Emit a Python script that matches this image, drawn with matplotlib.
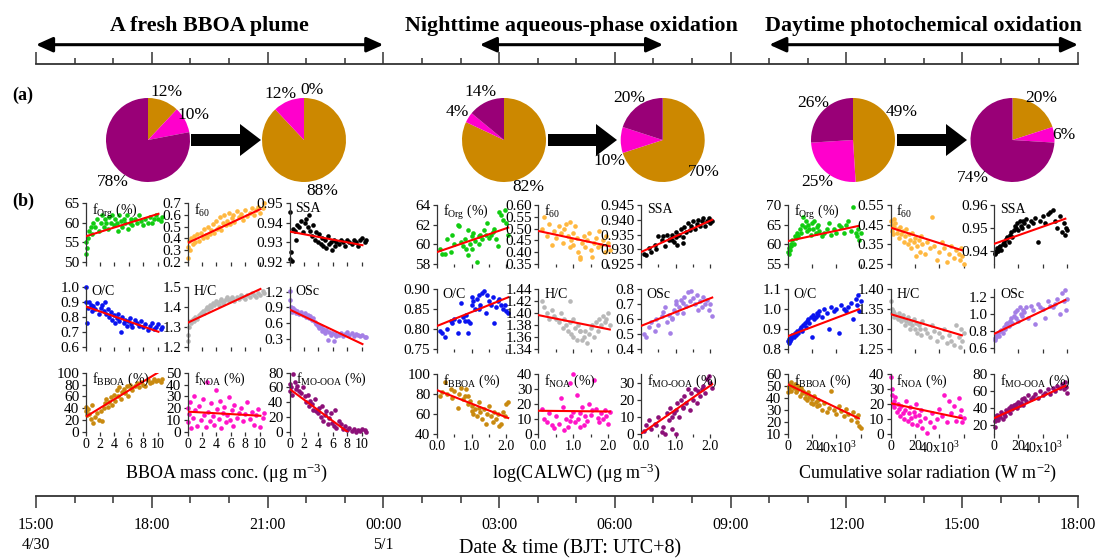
import matplotlib
matplotlib.use('Agg')
import matplotlib.pyplot as plt
from matplotlib.patches import FancyArrow, FancyArrowPatch
from matplotlib.ticker import FixedLocator, FormatStrFormatter, MultipleLocator

W, H = 1099, 559

plt.rcParams['font.family'] = ['Liberation Serif', 'DejaVu Serif']
plt.rcParams['mathtext.fontset'] = 'custom'
plt.rcParams['mathtext.rm'] = 'Liberation Serif'
plt.rcParams['mathtext.it'] = 'Liberation Serif:italic'
plt.rcParams['mathtext.bf'] = 'Liberation Serif:bold'

# ---------------- data ----------------
phase_names = ['A fresh BBOA plume', 'Nighttime aqueous-phase oxidation',
               'Daytime photochemical oxidation']
phase_start = [0, 11.5, 19.0]      # hours after 15:00 4/30
phase_end = [9, 16.25, 27]
time_ticks = [0, 3, 6, 9, 12, 15, 18, 21, 24, 27]
time_labels = ['15:00\n4/30', '18:00', '21:00', '00:00\n5/1', '03:00', '06:00',
               '09:00', '12:00', '15:00', '18:00']

# pie fractions: BBOA, NOA, MO-OOA
pie_fracs = [[12, 10, 78], [88, 12, 0], [82, 4, 14], [70, 10, 20], [49, 25, 26], [20, 6, 74]]
pie_colors = ['#CC8800', '#FF00CC', '#990077']

panel_names = [r'f$_{\mathrm{Org}}$ (%)', r'f$_{60}$', 'SSA', 'O/C', 'H/C', 'OSc',
               r'f$_{\mathrm{BBOA}}$ (%)', r'f$_{\mathrm{NOA}}$ (%)',
               r'f$_{\mathrm{MO\text{-}OOA}}$ (%)']
panel_colors = ['#11CC11', '#FFB840', '#000000', '#0A14F0', '#B8B8B8', '#A47FE6',
                '#C98A10', '#FF14C8', '#8C1078']

# group 1: BBOA mass conc.
bboa_x = [0.0, 0.1, 0.2, 0.3, 0.5, 0.7, 0.9, 1.1, 1.3, 1.6, 1.9, 2.1, 2.3, 2.5, 2.7, 2.9,
          3.1, 3.3, 3.5, 3.7, 3.9, 4.1, 4.3, 4.5, 4.7, 4.9, 5.1, 5.3, 5.5, 5.7, 5.9, 6.1,
          6.3, 6.5, 6.8, 7.1, 7.4, 7.7, 8.0, 8.3, 8.6, 8.9, 9.2, 9.5, 9.8, 10.1, 10.4, 10.6]
bboa_forg = [52, 55, 53.5, 56, 58, 59, 57, 60, 59, 61, 58, 60, 62, 59, 61, 60, 58.5, 61.5,
             60, 62, 59.5, 61, 60, 58, 62, 60.5, 59, 61, 60, 62, 58.5, 60, 61, 59.5, 61, 60,
             62, 60.5, 59.5, 61, 60, 61.5, 60, 61, 62, 61, 60.5, 61.5]
bboa_f60 = [0.23, 0.33, 0.38, 0.30, 0.40, 0.35, 0.42, 0.37, 0.44, 0.38, 0.45, 0.40, 0.48,
            0.43, 0.41, 0.50, 0.44, 0.47, 0.52, 0.45, 0.55, 0.48, 0.50, 0.58, 0.47, 0.53,
            0.60, 0.51, 0.55, 0.62, 0.52, 0.57, 0.60, 0.54, 0.63, 0.58, 0.61, 0.56, 0.64,
            0.59, 0.62, 0.66, 0.60, 0.64, 0.67, 0.62, 0.66, 0.70]
bboa_ssa = [0.9455, 0.9215, 0.925, 0.9205, 0.937, 0.936, 0.931, 0.939, 0.938, 0.941, 0.935,
            0.940, 0.942, 0.938, 0.944, 0.936, 0.933, 0.939, 0.931, 0.935, 0.930, 0.934,
            0.929, 0.932, 0.928, 0.931, 0.927, 0.933, 0.929, 0.930, 0.926, 0.931, 0.928,
            0.930, 0.929, 0.931, 0.930, 0.928, 0.931, 0.930, 0.929, 0.931, 0.930, 0.928,
            0.931, 0.932, 0.930, 0.931]
bboa_oc = [1.0, 0.90, 0.76, 0.86, 0.90, 0.88, 0.84, 0.87, 0.85, 0.89, 0.82, 0.86, 0.88, 0.84,
           0.90, 0.82, 0.85, 0.80, 0.83, 0.78, 0.81, 0.76, 0.79, 0.82, 0.77, 0.70, 0.80, 0.76,
           0.78, 0.74, 0.77, 0.79, 0.75, 0.73, 0.78, 0.76, 0.74, 0.77, 0.73, 0.75, 0.71, 0.74,
           0.76, 0.72, 0.73, 0.75, 0.72, 0.73]
bboa_hc = [1.23, 1.26, 1.30, 1.33, 1.32, 1.34, 1.33, 1.35, 1.34, 1.36, 1.37, 1.38, 1.37, 1.39,
           1.40, 1.39, 1.41, 1.40, 1.42, 1.41, 1.43, 1.42, 1.41, 1.43, 1.44, 1.42, 1.43, 1.44,
           1.45, 1.43, 1.44, 1.45, 1.44, 1.43, 1.45, 1.44, 1.46, 1.45, 1.44, 1.46, 1.45, 1.47,
           1.46, 1.45, 1.47, 1.46, 1.48, 1.47]
bboa_osc = [1.22, 1.05, 0.90, 0.82, 0.88, 0.85, 0.80, 0.84, 0.78, 0.82, 0.75, 0.80, 0.72,
            0.76, 0.70, 0.74, 0.66, 0.70, 0.62, 0.58, 0.55, 0.50, 0.54, 0.45, 0.48, 0.42,
            0.46, 0.28, 0.44, 0.38, 0.42, 0.26, 0.40, 0.35, 0.38, 0.42, 0.36, 0.40, 0.44,
            0.38, 0.41, 0.36, 0.40, 0.38, 0.35, 0.37, 0.34, 0.33]
bboa_fbboa = [35, 42, 28, 38, 30, 22, 45, 15, 25, 32, 20, 35, 18, 40, 48, 55, 42, 50, 58, 45,
              62, 52, 70, 60, 75, 55, 68, 72, 65, 78, 60, 80, 74, 70, 78, 82, 75, 85, 80, 78,
              88, 82, 85, 90, 86, 88, 84, 90]
bboa_fnoa = [20, 8, 15, 25, 3, 12, 30, 18, 5, 22, 10, 28, 14, 4, 42, 17, 9, 24, 13, 6, 35, 19,
             11, 26, 3, 16, 21, 8, 14, 29, 10, 18, 5, 23, 12, 16, 20, 9, 15, 25, 11, 17, 6,
             14, 19, 4, 12, 16]
bboa_fmo = [65, 55, 60, 50, 78, 68, 58, 62, 55, 52, 60, 48, 40, 50, 35, 42, 38, 30, 45, 28,
            25, 32, 20, 35, 15, 22, 28, 10, 18, 25, 12, 8, 30, 5, 15, 10, 3, 8, 2, 5, 1, 3,
            0, 2, 1, 3, 2, 0]
bboa_fit_x = [[0, 10.1]] * 6 + [[0, 10.0], [0, 10.1], [0, 8.0]]
bboa_fit_y = [[56.5, 62.3], [0.36, 0.65], [0.9355, 0.9285], [0.87, 0.70], [1.32, 1.49],
              [0.86, 0.20], [25, 100], [17, 13.5], [58, 0]]

# group 2: log(CALWC)
calwc_x = [0.1, 0.15, 0.25, 0.3, 0.4, 0.45, 0.5, 0.6, 0.65, 0.7, 0.75, 0.8, 0.85, 0.9, 0.95,
           1.0, 1.0, 1.05, 1.1, 1.15, 1.2, 1.25, 1.3, 1.35, 1.4, 1.45, 1.5, 1.55, 1.6, 1.65,
           1.7, 1.75, 1.8, 1.85, 1.9, 1.95, 2.0, 2.05, 1.2, 0.9]
calwc_forg = [59.5, 59.0, 59.0, 60.5, 59.2, 61.0, 60.0, 62.0, 61.9, 60.2, 59.8, 60.5, 59.5,
              58.9, 60.0, 60.8, 59.5, 61.2, 60.3, 58.2, 60.8, 61.0, 60.5, 61.5, 61.0, 62.2,
              60.6, 60.9, 61.3, 61.6, 60.5, 59.8, 63.3, 63.0, 62.5, 63.5, 62.2, 61.0, 60.0, 61.5]
calwc_f60 = [0.50, 0.55, 0.47, 0.52, 0.43, 0.49, 0.46, 0.51, 0.48, 0.44, 0.50, 0.52, 0.47,
             0.42, 0.45, 0.48, 0.43, 0.51, 0.46, 0.40, 0.38, 0.44, 0.47, 0.42, 0.45, 0.48,
             0.41, 0.38, 0.44, 0.46, 0.42, 0.49, 0.43, 0.45, 0.40, 0.47, 0.44, 0.41, 0.37, 0.53]
calwc_ssa = [0.9285, 0.928, 0.9305, 0.929, 0.9315, 0.930, 0.9345, 0.933, 0.9345, 0.931,
             0.935, 0.933, 0.9335, 0.935, 0.9325, 0.934, 0.936, 0.9315, 0.935, 0.937, 0.934,
             0.9375, 0.936, 0.939, 0.9365, 0.938, 0.9395, 0.937, 0.9385, 0.940, 0.938,
             0.9395, 0.9405, 0.938, 0.9395, 0.9405, 0.939, 0.9395, 0.932, 0.933]
calwc_oc = [0.795, 0.79, 0.78, 0.80, 0.82, 0.815, 0.825, 0.79, 0.82, 0.865, 0.83, 0.82, 0.835,
            0.79, 0.815, 0.86, 0.88, 0.87, 0.85, 0.875, 0.885, 0.86, 0.89, 0.895, 0.84, 0.885,
            0.87, 0.86, 0.88, 0.815, 0.855, 0.87, 0.875, 0.86, 0.85, 0.86, 0.845, 0.84, 0.85, 0.82]
calwc_hc = [1.42, 1.41, 1.40, 1.39, 1.405, 1.395, 1.39, 1.385, 1.40, 1.375, 1.39, 1.38, 1.37,
            1.385, 1.365, 1.39, 1.36, 1.375, 1.355, 1.38, 1.37, 1.355, 1.36, 1.37, 1.35, 1.365,
            1.375, 1.38, 1.36, 1.385, 1.37, 1.39, 1.38, 1.395, 1.385, 1.39, 1.40, 1.38, 1.37, 1.42]
calwc_osc = [0.50, 0.48, 0.55, 0.58, 0.52, 0.60, 0.56, 0.62, 0.65, 0.68, 0.58, 0.63, 0.51,
             0.60, 0.66, 0.70, 0.72, 0.64, 0.68, 0.73, 0.71, 0.75, 0.69, 0.78, 0.72, 0.79,
             0.74, 0.70, 0.76, 0.66, 0.72, 0.68, 0.75, 0.70, 0.73, 0.66, 0.70, 0.62, 0.64, 0.61]
calwc_fbboa = [78, 82, 92, 80, 85, 76, 83, 66, 80, 86, 75, 78, 85, 70, 73, 63, 68, 60, 65, 58,
               72, 62, 55, 65, 50, 60, 68, 58, 52, 62, 55, 60, 48, 50, 62, 58, 70, 72, 66, 78]
calwc_fnoa = [17, 10, 8, 14, 6, 4, 12, 7, 24, 18, 3, 10, 5, 34, 12, 15, 40, 8, 26, 10, 14, 18,
              6, 12, 9, 20, 13, 16, 36, 17, 11, 8, 14, 10, 16, 12, 7, 15, 5, 9]
calwc_fmo = [2, 5, 8, 3, 6, 5, 10, 1, 4, 0, 12, 8, 15, 3, 12, 14, 0, 18, 10, 20, 15, 22, 18,
             26, 14, 24, 20, 26, 18, 25, 22, 26, 28, 24, 32, 34, 30, 27, 16, 10]
calwc_fit_x = [[0, 2.05]] * 9
calwc_fit_y = [[59.2, 61.7], [0.49, 0.425], [0.929, 0.940], [0.808, 0.88], [1.397, 1.373],
               [0.555, 0.745], [84, 56], [15.5, 15], [0, 29]]

# group 3: cumulative solar radiation (x10^3 W m-2)
solar_x = [0.5, 1, 1.5, 2, 2.5, 3, 4, 5, 6, 7, 8, 9, 10, 11, 12, 13, 14, 15, 16, 17, 18, 19,
           20, 21, 22, 23, 24, 25, 26, 28, 30, 32, 34, 36, 38, 40, 42, 44, 46, 48, 50, 52,
           54, 56, 57, 58, 59, 60]
solar_forg = [58, 57.5, 59, 58.5, 60, 59.5, 61, 60, 62, 61.5, 63, 62, 64, 63, 65, 67, 64.5, 66,
              63.5, 65, 64, 62.5, 65.5, 64, 66, 63, 64.5, 65, 63.5, 62, 63, 64, 65.5, 62.5,
              64, 63, 65, 64.5, 63, 65, 66, 63.5, 69.5, 63, 62, 64, 61, 63]
solar_f60 = [0.47, 0.42, 0.45, 0.40, 0.48, 0.44, 0.46, 0.41, 0.43, 0.38, 0.44, 0.40, 0.42,
             0.36, 0.39, 0.43, 0.35, 0.40, 0.37, 0.33, 0.41, 0.36, 0.38, 0.29, 0.34, 0.37,
             0.31, 0.39, 0.35, 0.30, 0.36, 0.33, 0.49, 0.34, 0.27, 0.31, 0.36, 0.33, 0.26,
             0.30, 0.34, 0.28, 0.32, 0.30, 0.27, 0.33, 0.29, 0.25]
solar_ssa = [0.9385, 0.939, 0.940, 0.9395, 0.941, 0.940, 0.9415, 0.942, 0.9405, 0.943, 0.944,
             0.9425, 0.945, 0.946, 0.944, 0.947, 0.948, 0.946, 0.949, 0.951, 0.950, 0.952,
             0.949, 0.953, 0.951, 0.950, 0.953, 0.952, 0.954, 0.951, 0.953, 0.952, 0.9545,
             0.944, 0.953, 0.955, 0.952, 0.956, 0.957, 0.958, 0.953, 0.950, 0.955, 0.948,
             0.952, 0.947, 0.950, 0.949]
solar_oc = [0.84, 0.83, 0.85, 0.84, 0.86, 0.85, 0.87, 0.86, 0.88, 0.87, 0.89, 0.88, 0.90, 0.91,
            0.89, 0.92, 0.93, 0.91, 0.94, 0.95, 0.93, 0.96, 0.86, 0.97, 0.95, 0.96, 0.98, 0.97,
            0.99, 0.96, 1.00, 0.98, 0.90, 1.01, 0.99, 1.00, 0.88, 1.02, 1.00, 0.99, 1.01, 1.03,
            0.95, 1.05, 1.02, 1.07, 0.99, 1.04]
solar_hc = [1.37, 1.35, 1.34, 1.345, 1.33, 1.34, 1.335, 1.33, 1.325, 1.34, 1.33, 1.32, 1.335,
            1.325, 1.31, 1.32, 1.33, 1.315, 1.30, 1.32, 1.31, 1.325, 1.30, 1.315, 1.29, 1.31,
            1.30, 1.285, 1.32, 1.30, 1.29, 1.28, 1.31, 1.295, 1.27, 1.29, 1.28, 1.30, 1.265,
            1.285, 1.27, 1.26, 1.31, 1.28, 1.255, 1.30, 1.27, 1.29]
solar_osc = [0.72, 0.70, 0.74, 0.73, 0.76, 0.78, 0.75, 0.80, 0.82, 0.78, 0.85, 0.83, 0.88,
             0.90, 0.86, 0.92, 0.95, 0.90, 0.98, 1.02, 0.96, 1.05, 0.92, 1.08, 1.00, 0.98,
             1.05, 1.03, 1.08, 0.95, 1.10, 1.05, 0.88, 1.12, 1.08, 1.06, 0.95, 1.15, 1.10,
             1.08, 1.12, 1.18, 1.00, 1.25, 1.15, 1.28, 1.05, 1.18]
solar_fbboa = [45, 48, 50, 52, 46, 53, 50, 48, 52, 45, 47, 50, 42, 48, 44, 46, 40, 43, 38, 45,
               41, 36, 39, 35, 42, 37, 33, 38, 34, 30, 36, 28, 32, 46, 30, 27, 33, 29, 25, 31,
               27, 22, 28, 24, 20, 26, 17, 15]
solar_fnoa = [38, 30, 26, 20, 22, 18, 25, 15, 20, 17, 12, 19, 14, 10, 16, 22, 9, 14, 18, 11, 7,
              15, 12, 20, 6, 13, 9, 16, 4, 11, 1, 8, 14, 5, 10, 17, 12, 26, 8, 22, 14, 19, 9,
              24, 12, 16, 8, 11]
solar_fmo = [18, 25, 30, 28, 32, 26, 31, 29, 35, 27, 33, 30, 38, 36, 40, 34, 42, 39, 44, 41, 45,
             40, 47, 43, 46, 50, 44, 52, 48, 55, 50, 53, 57, 52, 60, 55, 58, 62, 56, 64, 60, 66,
             63, 68, 62, 70, 65, 58]
solar_fit_x = [[0, 58.5]] * 9
solar_fit_y = [[60.8, 64.7], [0.435, 0.32], [0.943, 0.954], [0.865, 1.0], [1.338, 1.285],
               [0.77, 1.165], [51.5, 23], [20.5, 10.5], [28, 66]]

group_x = [bboa_x, calwc_x, solar_x]
group_y = [[bboa_forg, bboa_f60, bboa_ssa, bboa_oc, bboa_hc, bboa_osc, bboa_fbboa, bboa_fnoa, bboa_fmo],
           [calwc_forg, calwc_f60, calwc_ssa, calwc_oc, calwc_hc, calwc_osc, calwc_fbboa, calwc_fnoa, calwc_fmo],
           [solar_forg, solar_f60, solar_ssa, solar_oc, solar_hc, solar_osc, solar_fbboa, solar_fnoa, solar_fmo]]
group_fit_x = [bboa_fit_x, calwc_fit_x, solar_fit_x]
group_fit_y = [bboa_fit_y, calwc_fit_y, solar_fit_y]
group_xlabels = [r'BBOA mass conc. ($\mathrm{\mu}$g m$^{-3}$)', r'log(CALWC) ($\mathrm{\mu}$g m$^{-3}$)',
                 r'Cumulative solar radiation (W m$^{-2}$)']

# axis scales per group
group_xlim = [(0, 10.8), (0, 2.15), (0, 61)]
group_xticks = [[0, 2, 4, 6, 8, 10], [0, 1, 2], [0, 20, 40, 60]]
group_xticklabels = [['0', '2', '4', '6', '8', '10'], ['0.0', '1.0', '2.0'],
                     ['0', '20', r'40x10$^3$', '']]
group_xminor = [None, 0.5, None]
group_ylims = [
    [(50, 65), (0.2, 0.7), (0.92, 0.95), (0.6, 1.0), (1.2, 1.5), (0.15, 1.29), (0, 100), (0, 50), (0, 80)],
    [(58, 64), (0.35, 0.60), (0.925, 0.945), (0.75, 0.90), (1.34, 1.44), (0.4, 0.8), (40, 100), (0, 40), (0, 35)],
    [(55, 70), (0.25, 0.55), (0.9342, 0.96), (0.8, 1.1), (1.25, 1.40), (0.59, 1.29), (10, 60), (0, 40), (9.4, 80)],
]
group_yticks = [
    [[50, 55, 60, 65], [0.2, 0.3, 0.4, 0.5, 0.6, 0.7], [0.92, 0.93, 0.94, 0.95], [0.6, 0.7, 0.8, 0.9, 1.0],
     [1.2, 1.3, 1.4, 1.5], [0.3, 0.6, 0.9, 1.2], [0, 20, 40, 60, 80, 100], [0, 10, 20, 30, 40, 50], [0, 20, 40, 60, 80]],
    [[58, 60, 62, 64], [0.35, 0.40, 0.45, 0.50, 0.55, 0.60], [0.925, 0.930, 0.935, 0.940, 0.945],
     [0.75, 0.80, 0.85, 0.90], [1.34, 1.36, 1.38, 1.40, 1.42, 1.44], [0.4, 0.5, 0.6, 0.7, 0.8],
     [40, 60, 80, 100], [0, 10, 20, 30, 40], [0, 10, 20, 30]],
    [[55, 60, 65, 70], [0.25, 0.35, 0.45, 0.55], [0.94, 0.95, 0.96], [0.8, 0.9, 1.0, 1.1],
     [1.25, 1.30, 1.35, 1.40], [0.6, 0.8, 1.0, 1.2], [10, 20, 30, 40, 50, 60], [0, 10, 20, 30, 40], [20, 40, 60, 80]],
]
group_yfmt = [['%d', '%.1f', '%.2f', '%.1f', '%.1f', '%.1f', '%d', '%d', '%d'],
              ['%d', '%.2f', '%.3f', '%.2f', '%.2f', '%.1f', '%d', '%d', '%d'],
              ['%d', '%.2f', '%.2f', '%.1f', '%.2f', '%.1f', '%d', '%d', '%d']]

# ---------------- layout (pixels) ----------------
group_lefts = [[85.5, 187.5, 289.5], [436.7, 538.3, 640.7], [787.5, 890.5, 994.0]]
group_width = [78, 75, 74.4]
group_rows = [[(203.3, 261.7), (287.0, 346.7), (372.7, 431.7)],
              [(205.0, 264.0), (289.3, 349.3), (374.0, 434.0)],
              [(205.0, 264.0), (289.3, 349.3), (374.0, 434.0)]]
pie_cx = [148, 304, 504, 662.7, 853, 1012.5]
pie_cy = 140
pie_r = 42
# label centres for each wedge (BBOA, NOA, MO-OOA)
pie_label_pos = [[(166.6, 92), (193, 115), (113, 182.4)],
                 [(322.7, 191), (280.6, 94), (312, 90.5)],
                 [(528, 187), (457.7, 111.5), (480.5, 92)],
                 [(704, 172), (609.6, 160.6), (629, 98)],
                 [(902, 112), (817, 181.7), (813, 103.5)],
                 [(1041, 97.5), (1064, 135), (972.7, 178)]]
block_arrows = [(191, 261), (548, 617), (897, 967)]

fig = plt.figure(figsize=(W / 100, H / 100), dpi=100)


def px_axes(left, top, width, height, **kw):
    return fig.add_axes([left / W, 1 - (top + height) / H, width / W, height / H], **kw)


# overlay for block arrows and panel letters
ov = px_axes(0, 0, W, H)
ov.set_xlim(0, W)
ov.set_ylim(H, 0)
ov.axis('off')
for x0, x1 in block_arrows:
    ov.add_patch(FancyArrow(x0, pie_cy, x1 - x0, 0, width=12, head_width=32, head_length=21,
                            length_includes_head=True, color='black', lw=0))
ov.text(23, 95, '(a)', fontsize=13, fontweight='bold', ha='center', va='center')
ov.text(23, 201, '(b)', fontsize=13, fontweight='bold', ha='center', va='center')

# top timeline with phases
tl = px_axes(36, 30, 1042, 34.4)
tl.set_xlim(0, 27)
tl.set_ylim(0, 1)
for s in ['top', 'left', 'right']:
    tl.spines[s].set_visible(False)
tl.spines['bottom'].set_linewidth(1.3)
tl.spines['bottom'].set_color('#333333')
tl.xaxis.set_major_locator(FixedLocator(time_ticks))
tl.xaxis.set_minor_locator(MultipleLocator(1))
tl.tick_params(axis='x', which='major', direction='in', length=8.5, width=1.1, color='#333333', labelbottom=False)
tl.tick_params(axis='x', which='minor', direction='in', length=4.5, width=1.1, color='#333333')
tl.set_yticks([])
tl.patch.set_alpha(0)
for name, a, b in zip(phase_names, phase_start, phase_end):
    tl.add_patch(FancyArrowPatch((a, 0.573), (b, 0.573), arrowstyle='<|-|>,head_length=10,head_width=4.5',
                                 mutation_scale=1, lw=2.2, color='black', shrinkA=0, shrinkB=0))
    tl.text((a + b) / 2, 1.12, name, fontsize=15.8, fontweight='bold', ha='center', va='center')

# pies
for cx, fr, lpos in zip(pie_cx, pie_fracs, pie_label_pos):
    pa = px_axes(cx - pie_r, pie_cy - pie_r, 2 * pie_r, 2 * pie_r)
    pa.pie(fr, colors=pie_colors, startangle=90, counterclock=False,
           wedgeprops=dict(linewidth=0))
    pa.set_xlim(-1, 1)
    pa.set_ylim(-1, 1)
    pa.set_aspect('equal')
    for v, (lx, ly) in zip(fr, lpos):
        fig.text(lx / W, 1 - ly / H, f'{v}%', fontsize=12.5, ha='center', va='center')

# scatter panels
for g in range(3):
    for k in range(9):
        r, c = divmod(k, 3)
        top, bot = group_rows[g][r]
        ax = px_axes(group_lefts[g][c], top, group_width[g], bot - top)
        ax.patch.set_alpha(0)
        ax.scatter(group_x[g], group_y[g][k], s=11, color=panel_colors[k], linewidths=0,
                   zorder=2, clip_on=False)
        ax.plot(group_fit_x[g][k], group_fit_y[g][k], color='#FF0000', lw=1.5, zorder=3)
        ax.set_xlim(*group_xlim[g])
        ax.set_ylim(*group_ylims[g][k])
        for s in ['top', 'right', 'bottom']:
            ax.spines[s].set_visible(False)
        ax.spines['left'].set_linewidth(0.9)
        ax.spines['left'].set_color('#333333')
        ax.yaxis.set_major_locator(FixedLocator(group_yticks[g][k]))
        ax.yaxis.set_major_formatter(FormatStrFormatter(group_yfmt[g][k]))
        ax.set_xticks(group_xticks[g])
        if group_xminor[g]:
            ax.xaxis.set_minor_locator(MultipleLocator(group_xminor[g]))
        if r == 2:
            ax.set_xticklabels(group_xticklabels[g])
        else:
            ax.set_xticklabels([])
        ax.tick_params(which='both', direction='out', length=3, width=0.9, color='#333333', pad=1.5)
        ax.tick_params(axis='y', labelsize=11)
        ax.tick_params(axis='x', labelsize=10)
        ax.tick_params(axis='x', which='minor', length=2)
        ax.text(6 / group_width[g], 1.03, panel_names[k], transform=ax.transAxes,
                fontsize=10, ha='left', va='top')
    cx = (group_lefts[g][0] + group_lefts[g][2] + group_width[g]) / 2
    ov.text(cx, 473, group_xlabels[g], fontsize=13, ha='center', va='center')

# bottom time axis
bt = px_axes(36, 480, 1042, 15.5)
bt.set_xlim(0, 27)
for s in ['top', 'left', 'right']:
    bt.spines[s].set_visible(False)
bt.spines['bottom'].set_linewidth(1.3)
bt.spines['bottom'].set_color('#333333')
bt.patch.set_alpha(0)
bt.set_yticks([])
bt.xaxis.set_major_locator(FixedLocator(time_ticks))
bt.xaxis.set_minor_locator(MultipleLocator(1))
bt.set_xticklabels(time_labels, linespacing=1.3)
bt.tick_params(axis='x', which='major', direction='out', length=8.3, width=1.1, color='#333333',
               labelsize=11.5, pad=7.5)
bt.tick_params(axis='x', which='minor', direction='out', length=4.7, width=1.1, color='#333333')
ov.text(570, 549, 'Date & time (BJT: UTC+8)', fontsize=14.5, ha='center', va='center')

fig.savefig('out.png', dpi=100)
